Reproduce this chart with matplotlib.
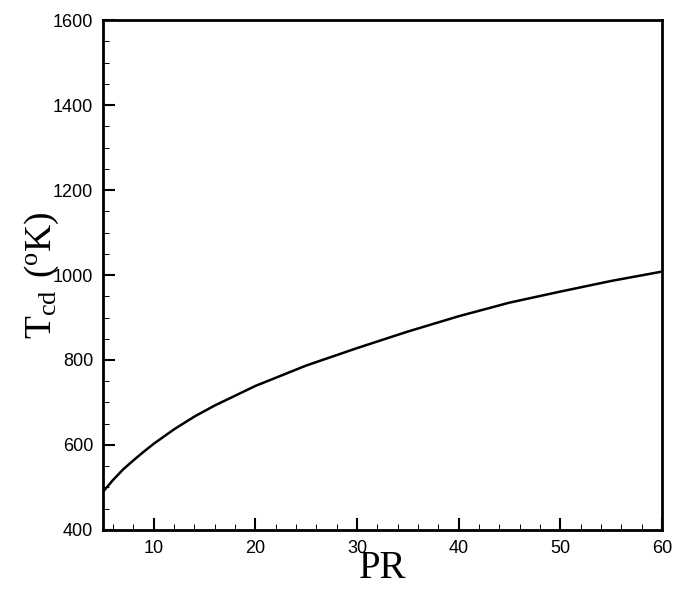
import matplotlib
matplotlib.use("Agg")
import matplotlib.pyplot as plt
from matplotlib.ticker import MultipleLocator

# values
pr = [5, 6, 7, 8, 9, 10, 12, 14, 16, 18, 20, 25, 30, 35, 40, 45, 50, 55, 60]
t_cd = [490, 518, 543, 564, 584, 603, 637, 667, 693, 716, 739, 787, 828, 867,
        903, 935, 961, 986, 1008]

plt.rcParams['font.family'] = ['Liberation Sans', 'DejaVu Sans']

fig = plt.figure(figsize=(6.74, 5.89), dpi=100)
ax = fig.add_axes([0.1528, 0.1002, 0.8294, 0.8658])

ax.plot(pr, t_cd, color='black', linewidth=1.8)

ax.set_xlim(5, 60)
ax.set_ylim(400, 1600)
ax.xaxis.set_major_locator(MultipleLocator(10))
ax.xaxis.set_minor_locator(MultipleLocator(2))
ax.yaxis.set_major_locator(MultipleLocator(200))
ax.yaxis.set_minor_locator(MultipleLocator(50))

ax.tick_params(which='both', direction='in', top=False, right=False,
               labelsize=13, pad=7)
ax.tick_params(which='major', length=8.6, width=1.5)
ax.tick_params(which='minor', length=4.3, width=0.7)

for s in ax.spines.values():
    s.set_linewidth(2)

ax.set_xlabel('PR', family='Liberation Serif', fontsize=28, labelpad=-5)
ax.set_ylabel(r'$\mathregular{T_{cd}\ (^{o}K)}$', family='Liberation Serif',
              fontsize=27, labelpad=-6)

fig.savefig('out.png', dpi=100)
